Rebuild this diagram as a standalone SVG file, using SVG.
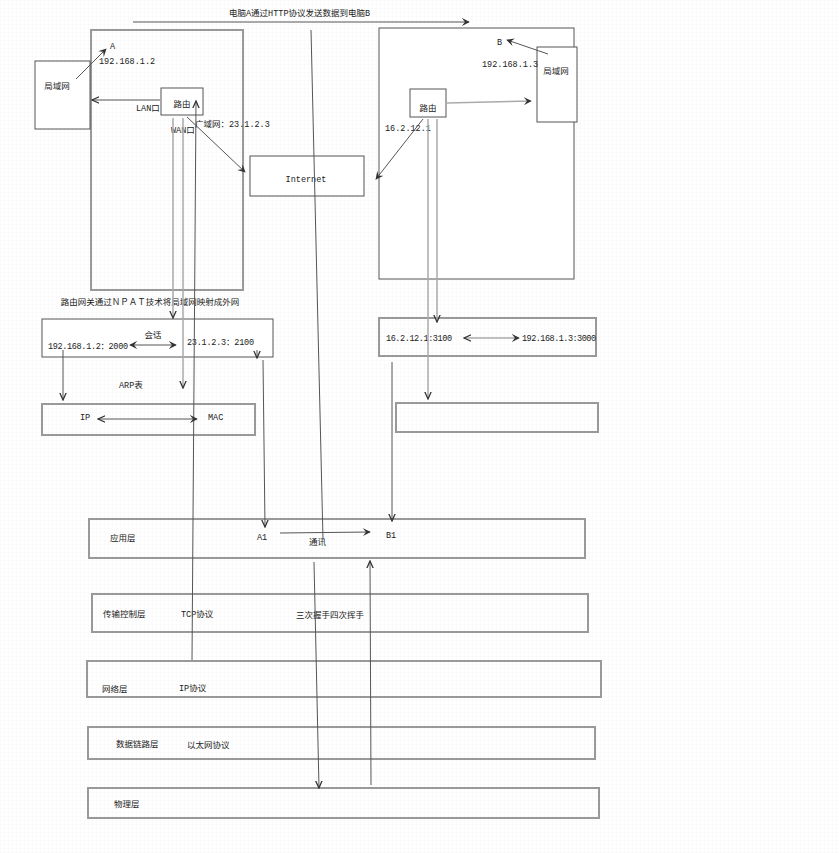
<svg xmlns="http://www.w3.org/2000/svg" width="839" height="853" viewBox="0 0 839 853">
<defs>
<pattern id="grid" width="4" height="4" patternUnits="userSpaceOnUse"><path d="M4 0H0V4" fill="none" stroke="#f0f0f0" stroke-width="0.6"/></pattern>
<marker id="ah" viewBox="0 0 10 10" refX="9" refY="5" markerWidth="8" markerHeight="8" markerUnits="userSpaceOnUse" orient="auto-start-reverse"><path d="M0,0 L10,5 L0,10 L4,5 Z" fill="#333"/></marker>
<marker id="av" viewBox="0 0 10 10" refX="9" refY="5" markerWidth="8" markerHeight="8" markerUnits="userSpaceOnUse" orient="auto-start-reverse"><path d="M0,1 L9,5 L0,9" fill="none" stroke="#333" stroke-width="1.6"/></marker>
<style>
.b{fill:#fff;stroke:#555;stroke-width:1}
.g{fill:none;stroke:#999;stroke-width:2}
.l{fill:none;stroke:#555;stroke-width:1}
.lg{fill:none;stroke:#aaa;stroke-width:1.5}
text{font-family:"Liberation Mono","Noto Sans CJK SC",monospace;font-size:8.5px;fill:#222}
.m{text-anchor:middle}
</style>
</defs>
<rect width="839" height="853" fill="#fff"/>
<rect width="839" height="853" fill="url(#grid)"/>
<g id="hostA"><rect class="g" x="91" y="30" width="152" height="260"/></g>
<g id="lanA"><rect class="b" x="35" y="61" width="55" height="68"/><text x="57" y="89" class="m">局域网</text></g>
<g id="routerA"><rect class="b" x="161" y="88" width="42" height="27"/><text x="182" y="107" class="m">路由</text></g>
<g id="internet"><rect class="b" x="250" y="156" width="114" height="40"/><text x="306" y="182" class="m">Internet</text></g>
<g id="hostB"><rect class="b" x="379" y="28" width="195" height="251"/></g>
<g id="lanB"><rect class="b" x="537" y="47" width="40" height="75"/><text x="556" y="74" class="m">局域网</text></g>
<g id="routerB"><rect class="b" x="410" y="89" width="36" height="28"/><text x="428" y="111" class="m">路由</text></g>
<g id="natA"><rect class="b" x="42" y="319" width="231" height="38"/><text x="153" y="338" class="m">会话</text><text x="48" y="349" textLength="80">192.168.1.2：2000</text><text x="187" y="345" textLength="67">23.1.2.3：2100</text></g>
<g id="arpA"><rect class="g" x="42" y="404" width="213" height="31"/><text x="80" y="420">IP</text><text x="208" y="420">MAC</text></g>
<g id="natB"><rect class="g" x="379" y="318" width="217" height="38"/><text x="386" y="341" textLength="66">16.2.12.1:3100</text><text x="522" y="341" textLength="74">192.168.1.3:3000</text></g>
<g id="arpB"><rect class="g" x="396" y="403" width="202" height="29"/></g>
<g id="app"><rect class="g" x="89" y="519" width="496" height="39"/><text x="110" y="541">应用层</text><text x="257" y="540">A1</text><text x="386" y="538">B1</text><text x="309" y="545">通讯</text></g>
<g id="transport"><rect class="g" x="92" y="594" width="496" height="38"/><text x="103" y="617">传输控制层</text><text x="181" y="617">TCP协议</text><text x="296" y="618">三次握手四次挥手</text></g>
<g id="network"><rect class="g" x="87" y="661" width="514" height="36"/><text x="102" y="692">网络层</text><text x="179" y="691">IP协议</text></g>
<g id="datalink"><rect class="g" x="88" y="727" width="507" height="32"/><text x="116" y="747">数据链路层</text><text x="187" y="748">以太网协议</text></g>
<g id="physical"><rect class="g" x="88" y="788" width="511" height="30"/><text x="114" y="807">物理层</text></g>
<g id="labels">
<text x="229" y="16">电脑A通过HTTP协议发送数据到电脑B</text>
<text x="110" y="49">A</text><text x="99" y="64">192.168.1.2</text>
<text x="136" y="111">LAN口</text><text x="171" y="133">WAN口</text><text x="195" y="127">广域网：23.1.2.3</text>
<text x="497" y="45">B</text><text x="482" y="67">192.168.1.3</text>
<text x="385" y="131">16.2.12.1</text>
<text x="150" y="305" class="m">路由网关通过ＮＰＡＴ技术将局域网映射成外网</text>
<text x="119" y="388">ARP表</text>
</g>
<g id="connectors">
<path class="l" d="M133,22 H469" marker-end="url(#ah)"/>
<path class="l" d="M311,30 L323,540"/>
<path class="l" d="M76,79 L106,49" marker-end="url(#ah)"/>
<path class="l" d="M160,100 H92" marker-end="url(#av)"/>
<path class="l" d="M187,117 L245,172" marker-end="url(#ah)"/>
<path class="lg" d="M173,118 V318" marker-end="url(#av)"/>
<path class="lg" d="M183,118 V388" marker-end="url(#av)"/>
<path class="l" d="M192,660 L196,101" marker-end="url(#av)"/>
<path class="l" d="M548,54 L507,40" marker-end="url(#ah)"/>
<path class="lg" d="M447,103 L531,101" marker-end="url(#ah)"/>
<path class="l" d="M423,119 L376,179" marker-end="url(#ah)"/>
<path class="lg" d="M428,119 V399" marker-end="url(#av)"/>
<path class="lg" d="M437,119 V322" marker-end="url(#av)"/>
<path class="l" d="M130,345 H176" marker-start="url(#ah)" marker-end="url(#ah)"/>
<path class="l" d="M257,350 V358" marker-end="url(#av)"/>
<path class="l" d="M63,350 V400" marker-end="url(#av)"/>
<path class="l" d="M98,419 H197" marker-start="url(#av)" marker-end="url(#ah)"/>
<path class="lg" d="M464,338 H519" marker-start="url(#av)" marker-end="url(#ah)"/>
<path class="l" d="M392,362 V521" marker-end="url(#av)"/>
<path class="l" d="M263,360 L265,527" marker-end="url(#av)"/>
<path class="l" d="M280,533 L370,532" marker-end="url(#ah)"/>
<path class="l" d="M314,562 L319,788" marker-end="url(#av)"/>
<path class="l" d="M371,785 L370,561" marker-end="url(#av)"/>
</g>
</svg>
